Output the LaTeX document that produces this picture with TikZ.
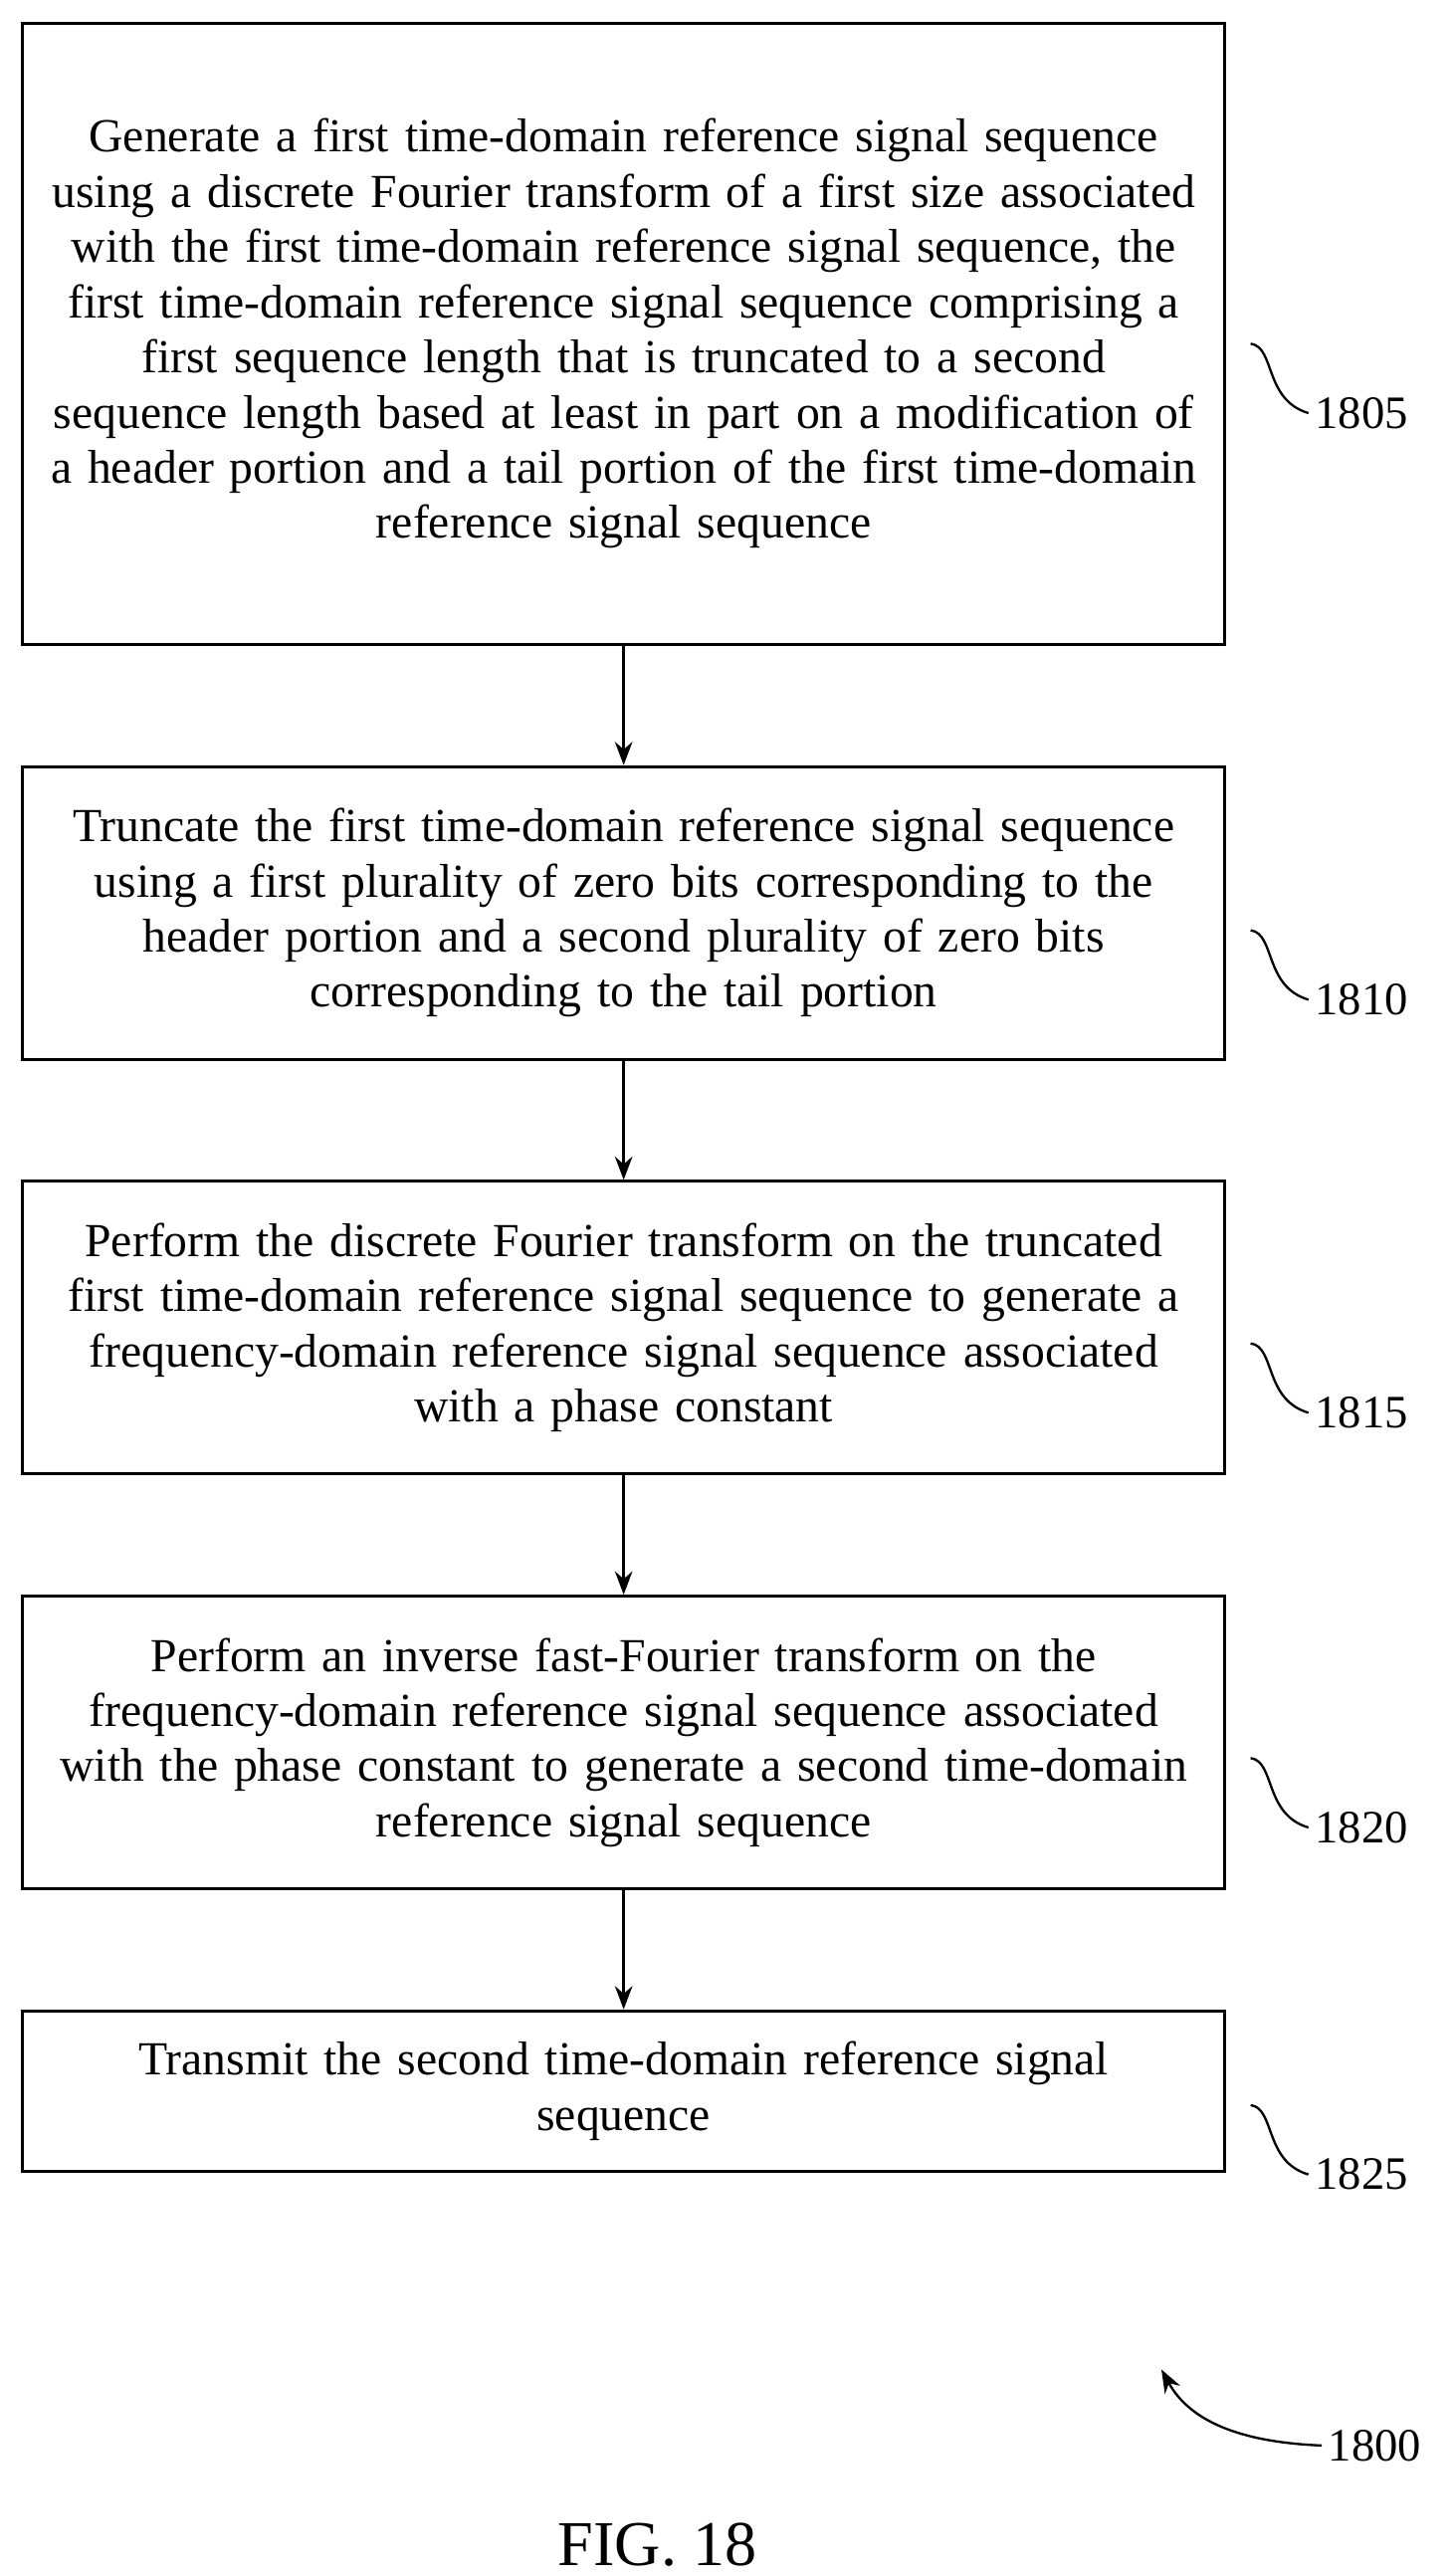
\documentclass[tikz,border=0pt]{standalone}
\usepackage{fontspec}
\setmainfont{Liberation Serif}
\usetikzlibrary{positioning,arrows.meta}
\begin{document}
\begin{tikzpicture}[x=0.03cm,y=-0.03cm,
  box/.style = {draw, line width=1.6pt, minimum width=21.81cm, text width=21.6cm, align=center,
                 font=\fontsize{24.5pt}{28.5pt}\selectfont},
  ref/.style = {font=\fontsize{24pt}{28pt}\selectfont, anchor=west},
  flow/.style = {-{Stealth[length=12pt,width=9pt]}, line width=1.6pt},
  squig/.style = {line width=1.2pt}]
\useasboundingbox (0,0) rectangle (880,1559);
\node[box, minimum height=11.28cm] (s1805) at (377.5,202) {Generate a first time-domain reference signal sequence\\ using a discrete Fourier transform of a first size associated\\ with the first time-domain reference signal sequence, the\\ first time-domain reference signal sequence comprising a\\ first sequence length that is truncated to a second\\ sequence length based at least in part on a modification of\\ a header portion and a tail portion of the first time-domain\\ reference signal sequence};
\node[box, minimum height=5.31cm] (s1810) at (377.5,552.5) {Truncate the first time-domain reference signal sequence\\ using a first plurality of zero bits corresponding to the\\ header portion and a second plurality of zero bits\\ corresponding to the tail portion};
\node[box, minimum height=5.31cm] (s1815) at (377.5,803.5) {Perform the discrete Fourier transform on the truncated\\ first time-domain reference signal sequence to generate a\\ frequency-domain reference signal sequence associated\\ with a phase constant};
\node[box, minimum height=5.31cm] (s1820) at (377.5,1054.5) {Perform an inverse fast-Fourier transform on the\\ frequency-domain reference signal sequence associated\\ with the phase constant to generate a second time-domain\\ reference signal sequence};
\node[box, minimum height=2.91cm] (s1825) at (377.5,1265.5) {Transmit the second time-domain reference signal\\ sequence};
\draw[flow] (s1805) -- (s1810);
\draw[flow] (s1810) -- (s1815);
\draw[flow] (s1815) -- (s1820);
\draw[flow] (s1820) -- (s1825);
% reference numerals
\foreach \n/\y in {1805/250,1810/605,1815/855,1820/1106,1825/1316} {
  \node[ref] (l\n) at (792,\y) {\n};
  \coordinate (c\n) at (757,\y-42);
  \draw[squig] (c\n) .. controls (772,\y-40) and (765,\y-8) .. (l\n.west);
}
\node[ref] (l1800) at (800,1480) {1800};
\coordinate (c1800) at (703,1434);
\draw[flow, line width=1.2pt] (l1800.west) .. controls (750,1478) and (720,1465) .. (c1800);
\node[font=\fontsize{33pt}{36pt}\selectfont] (fig) at (398,1540) {FIG. 18};
\end{tikzpicture}
\end{document}
